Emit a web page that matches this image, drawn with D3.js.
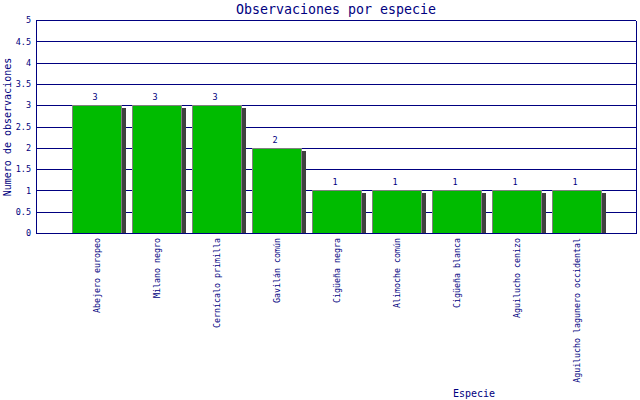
<!DOCTYPE html>
<html>
<head>
<meta charset="utf-8">
<script src="https://cdn.jsdelivr.net/npm/d3@7"></script>
<style>
  body { margin: 0; background: #fff; }
</style>
</head>
<body>
<script>
let species = ["Abejero europeo", "Milano negro", "Cernícalo primilla", "Gavilán común",
  "Cigüeña negra", "Alimoche común", "Cigüeña blanca", "Aguilucho cenizo",
  "Aguilucho lagunero occidental"];
let counts = [3, 3, 3, 2, 1, 1, 1, 1, 1];
let yTicks = [0, 0.5, 1, 1.5, 2, 2.5, 3, 3.5, 4, 4.5, 5];

let width = 640;
let height = 400;
let margins = { top: 20, bottom: 167, left: 36, right: 4 };
let navy = '#000080';
let font = 'DejaVu Sans Mono, monospace';

let xScale = d3.scalePoint(species, [margins.left, width - margins.right]).padding(1);
let yScale = d3.scaleLinear([0, 5], [height - margins.bottom, margins.top]);
let barWidth = 50;

let svg = d3.create('svg')
  .attr('width', width)
  .attr('height', height)
  .attr('shape-rendering', 'crispEdges');

// grid lines
svg.append('g')
  .selectAll('line')
  .data(yTicks)
  .join('line')
  .attr('x1', margins.left)
  .attr('x2', width - margins.right)
  .attr('y1', d => Math.round(yScale(d)) + 0.5)
  .attr('y2', d => Math.round(yScale(d)) + 0.5)
  .attr('stroke', navy);

// y axis labels
svg.append('g')
  .call(d3.axisLeft(yScale).tickValues(yTicks).tickSize(0).tickPadding(5).tickFormat(d3.format('')))
  .attr('transform', `translate(${margins.left},0)`)
  .call(g => g.select('.domain').remove())
  .selectAll('text')
  .attr('font-family', font)
  .attr('font-size', 8.5)
  .attr('fill', navy);

// shadows
svg.append('g')
  .selectAll('rect')
  .data(counts)
  .join('rect')
  .attr('x', (d, i) => xScale(species[i]) + barWidth / 2)
  .attr('y', d => yScale(d) + 3)
  .attr('width', 5)
  .attr('height', d => yScale(0) - yScale(d) - 3)
  .attr('fill', '#404040');

// bars
svg.append('g')
  .selectAll('rect')
  .data(counts)
  .join('rect')
  .attr('x', (d, i) => xScale(species[i]) - barWidth / 2 + 1.5)
  .attr('y', d => yScale(d) + 0.5)
  .attr('width', barWidth - 1)
  .attr('height', d => yScale(0) - yScale(d))
  .attr('fill', '#00bb00')
  .attr('stroke', '#808080');

// value labels
svg.append('g')
  .selectAll('text')
  .data(counts)
  .join('text')
  .text(d => d)
  .attr('x', (d, i) => xScale(species[i]) - 1)
  .attr('y', d => yScale(d) - 5)
  .attr('text-anchor', 'middle')
  .attr('font-family', font)
  .attr('font-size', 8.5)
  .attr('fill', navy);

// frame
let y0 = Math.round(yScale(0)) + 0.5;
let y5 = Math.round(yScale(5)) + 0.5;
svg.append('path')
  .attr('d', `M${margins.left + 0.5},${y5}V${y0}H${width - margins.right + 0.5}V${y5}`)
  .attr('fill', 'none')
  .attr('stroke', navy);

// category labels
svg.append('g')
  .selectAll('text')
  .data(species)
  .join('text')
  .text(d => d)
  .attr('transform', d => `translate(${xScale(d) + 4},${height - margins.bottom + 5}) rotate(-90)`)
  .attr('text-anchor', 'end')
  .attr('font-family', font)
  .attr('font-size', 8.3)
  .attr('fill', navy);

svg.append('text')
  .text('Observaciones por especie')
  .attr('x', 336)
  .attr('y', 14)
  .attr('text-anchor', 'middle')
  .attr('font-family', font)
  .attr('font-size', 13.3)
  .attr('fill', navy);

svg.append('text')
  .text('Especie')
  .attr('x', 474)
  .attr('y', 397)
  .attr('text-anchor', 'middle')
  .attr('font-family', font)
  .attr('font-size', 10)
  .attr('fill', navy);

svg.append('text')
  .text('Numero de observaciones')
  .attr('transform', 'translate(11,127) rotate(-90)')
  .attr('text-anchor', 'middle')
  .attr('font-family', font)
  .attr('font-size', 10)
  .attr('fill', navy);

document.body.prepend(svg.node());
</script>
</body>
</html>
